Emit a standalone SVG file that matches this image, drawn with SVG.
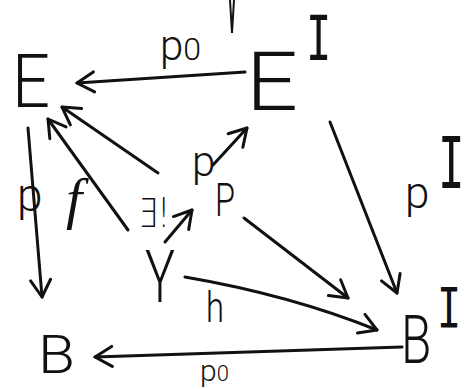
<svg xmlns="http://www.w3.org/2000/svg" width="469" height="389" viewBox="0 0 469 389">
<style>
.t{font-family:Roboto,"Liberation Sans","DejaVu Sans",sans-serif;font-weight:300;fill:#111}
.s{font-family:"Liberation Serif","DejaVu Serif",serif;fill:#111}
.i{font-family:"DejaVu Sans Mono","Liberation Mono",monospace;fill:#111}
.m{font-family:"DejaVu Sans","Liberation Sans",sans-serif;font-weight:200;fill:#111}
.c{fill:none;stroke:#111;stroke-width:3;stroke-linecap:round;stroke-linejoin:round}
</style>
<defs>
<marker id="ah" viewBox="-19 -12 21 24" refX="0" refY="0" markerWidth="21" markerHeight="24" markerUnits="userSpaceOnUse" orient="auto">
<path d="M-17,-10 L0,0 L-17,10" fill="none" stroke="#111" stroke-width="3" stroke-linecap="round" stroke-linejoin="round"/>
</marker>
</defs>
<rect width="469" height="389" fill="#fff"/>
<path d="M230,0 L232,33 L234,0" fill="none" stroke="#111" stroke-width="2"/>
<g id="connectors">
<path class="c" d="M245,72 L77,83" marker-end="url(#ah)"/>
<path class="c" d="M28,128 L42,297" marker-end="url(#ah)"/>
<path class="c" d="M128,230 L48,119" marker-end="url(#ah)"/>
<path class="c" d="M158,173 L62,107" marker-end="url(#ah)"/>
<path class="c" d="M165,242 L192,210" marker-end="url(#ah)"/>
<path class="c" d="M213,165 L247,128" marker-end="url(#ah)"/>
<path class="c" d="M244,218 L348,298" marker-end="url(#ah)"/>
<path class="c" d="M330,122 L397,293" marker-end="url(#ah)"/>
<path class="c" d="M185,277 Q290,295 377,330" marker-end="url(#ah)"/>
<path class="c" d="M402,347 L95,357" marker-end="url(#ah)"/>
</g>
<g id="labels">
<text class="t" x="160" y="60" font-size="42">p<tspan font-size="32">0</tspan></text>
<text class="t" x="17" y="211" font-size="46">p</text>
<text class="s" x="66" y="218" font-size="58" font-style="italic">f</text>
<text class="t" x="192" y="176" font-size="42">p</text>
<text class="t" x="405" y="208" font-size="44">p</text>
<text class="i" transform="translate(438,188) scale(1,1.6)" font-size="44">I</text>
<text class="t" x="206" y="322" font-size="42" textLength="18" lengthAdjust="spacingAndGlyphs">h</text>
<text class="t" x="200" y="381" font-size="30">p<tspan font-size="22">0</tspan></text>
</g>
<g id="node-E"><text class="t" x="12" y="107" font-size="74" textLength="38" lengthAdjust="spacingAndGlyphs">E</text></g>
<g id="node-EI">
<text class="t" x="246" y="110" font-size="82" textLength="52" lengthAdjust="spacingAndGlyphs">E</text>
<text class="i" transform="translate(306,60) scale(1,1.5)" font-size="42">I</text>
</g>
<g id="node-exists"><text class="m" x="138" y="227" font-size="40" textLength="32" lengthAdjust="spacingAndGlyphs">∃!</text></g>
<g id="node-P"><text class="t" x="215" y="216" font-size="46" textLength="20" lengthAdjust="spacingAndGlyphs">P</text></g>
<g id="node-Y"><text class="t" x="145" y="302" font-size="72" textLength="30" lengthAdjust="spacingAndGlyphs">Y</text></g>
<g id="node-B"><text class="t" x="38" y="373" font-size="54" textLength="37" lengthAdjust="spacingAndGlyphs">B</text></g>
<g id="node-BI">
<text class="t" transform="translate(401,363) scale(0.9,1.22)" font-size="55">B</text>
<text class="i" transform="translate(437,327) scale(1,1.38)" font-size="40">I</text>
</g>
</svg>
